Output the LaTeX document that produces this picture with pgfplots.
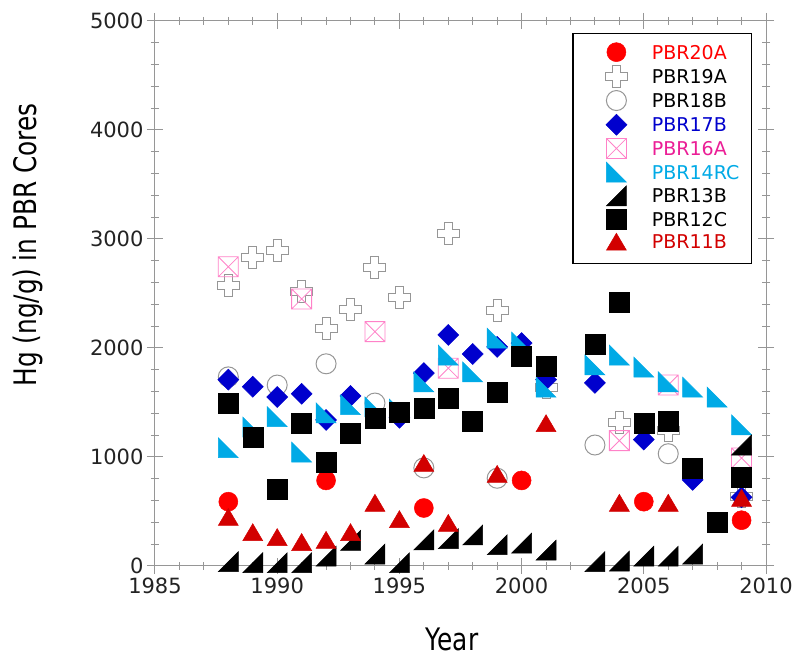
\documentclass[border=0pt]{standalone}
\usepackage{pgfplots}
\pgfplotsset{compat=1.18}
\usepackage{fontspec}
\setmainfont{DejaVu Sans}
\newfontfamily\labelfont[FakeStretch=0.8]{DejaVu Sans}
\definecolor{c20}{RGB}{255,0,0}
\definecolor{cgray}{RGB}{150,150,150}
\definecolor{c17}{RGB}{0,0,205}
\definecolor{c16}{RGB}{255,130,200}
\definecolor{c16t}{RGB}{235,30,150}
\definecolor{c14}{RGB}{0,170,230}
\definecolor{c11}{RGB}{210,0,0}
\definecolor{axgray}{RGB}{150,150,150}
\definecolor{tickfg}{RGB}{35,35,35}
\pgfdeclareplotmark{bigdot}{\pgfpathcircle{\pgfpointorigin}{9.5pt}\pgfusepathqfillstroke}
\pgfdeclareplotmark{opencirc}{\pgfpathcircle{\pgfpointorigin}{10pt}\pgfusepathqstroke}
\pgfdeclareplotmark{opencross}{%
 \pgfpathmoveto{\pgfqpoint{-4pt}{11pt}}\pgfpathlineto{\pgfqpoint{4pt}{11pt}}%
 \pgfpathlineto{\pgfqpoint{4pt}{4pt}}\pgfpathlineto{\pgfqpoint{11pt}{4pt}}%
 \pgfpathlineto{\pgfqpoint{11pt}{-4pt}}\pgfpathlineto{\pgfqpoint{4pt}{-4pt}}%
 \pgfpathlineto{\pgfqpoint{4pt}{-11pt}}\pgfpathlineto{\pgfqpoint{-4pt}{-11pt}}%
 \pgfpathlineto{\pgfqpoint{-4pt}{-4pt}}\pgfpathlineto{\pgfqpoint{-11pt}{-4pt}}%
 \pgfpathlineto{\pgfqpoint{-11pt}{4pt}}\pgfpathlineto{\pgfqpoint{-4pt}{4pt}}%
 \pgfpathclose\pgfusepathqstroke}
\pgfdeclareplotmark{diam}{%
 \pgfpathmoveto{\pgfqpoint{0pt}{10.5pt}}\pgfpathlineto{\pgfqpoint{10.5pt}{0pt}}%
 \pgfpathlineto{\pgfqpoint{0pt}{-10.5pt}}\pgfpathlineto{\pgfqpoint{-10.5pt}{0pt}}%
 \pgfpathclose\pgfusepathqfillstroke}
\pgfdeclareplotmark{xsquare}{%
 \pgfpathrectangle{\pgfqpoint{-10pt}{-10pt}}{\pgfqpoint{20pt}{20pt}}%
 \pgfpathmoveto{\pgfqpoint{-10pt}{-10pt}}\pgfpathlineto{\pgfqpoint{10pt}{10pt}}%
 \pgfpathmoveto{\pgfqpoint{-10pt}{10pt}}\pgfpathlineto{\pgfqpoint{10pt}{-10pt}}%
 \pgfusepathqstroke}
\pgfdeclareplotmark{rtril}{%
 \pgfpathmoveto{\pgfqpoint{-10pt}{10pt}}\pgfpathlineto{\pgfqpoint{-10pt}{-10pt}}%
 \pgfpathlineto{\pgfqpoint{10pt}{-10pt}}\pgfpathclose\pgfusepathqfillstroke}
\pgfdeclareplotmark{rtrir}{%
 \pgfpathmoveto{\pgfqpoint{10pt}{10pt}}\pgfpathlineto{\pgfqpoint{10pt}{-10pt}}%
 \pgfpathlineto{\pgfqpoint{-10pt}{-10pt}}\pgfpathclose\pgfusepathqfillstroke}
\pgfdeclareplotmark{sq}{\pgfpathrectangle{\pgfqpoint{-10pt}{-10pt}}{\pgfqpoint{20pt}{20pt}}\pgfusepathqfillstroke}
\pgfdeclareplotmark{tri}{%
 \pgfpathmoveto{\pgfqpoint{0pt}{8.5pt}}\pgfpathlineto{\pgfqpoint{10pt}{-8.5pt}}%
 \pgfpathlineto{\pgfqpoint{-10pt}{-8.5pt}}\pgfpathclose\pgfusepathqfillstroke}
\begin{document}
\begin{tikzpicture}
\begin{axis}[
  at={(0pt,0pt)}, anchor=south west,
  scale only axis, width=611pt, height=545pt,
  xmin=1985, xmax=2010, ymin=0, ymax=5000,
  xtick={1985,1990,...,2010}, ytick={0,1000,...,5000},
  minor x tick num=4, minor y tick num=4,
  tick align=center, major tick length=16pt, minor tick length=8pt,
  axis line style={axgray, line width=1pt},
  tick style={axgray, line width=1pt},
  /pgf/number format/1000 sep={},
  /pgf/number format/assume math mode=true,
  tick label style={font=\fontsize{21}{25}\selectfont, text=tickfg},
  xlabel={Year}, ylabel={Hg (ng/g) in PBR Cores},
  label style={font=\labelfont\fontsize{31}{36}\selectfont, text=black},
  ylabel style={at={(axis description cs:-0.2079,0.589)}, anchor=center},
  xlabel style={at={(axis description cs:0.486,0)}, anchor=base, yshift=-85pt},
  legend cell align=left,
  legend image code/.code={\path (0pt,0pt) (60pt,0pt); \draw[#1] plot[only marks] coordinates {(35pt,2.9pt)};},
  legend style={at={(0.977,0.978)}, anchor=north east, draw=black, line width=1.3pt,
    inner xsep=8pt, inner ysep=9pt, font=\fontsize{19}{23}\selectfont,
    /tikz/column sep=6pt, /tikz/row sep=0.8pt,
    nodes={inner xsep=4pt, inner ysep=0pt, text height=14pt, text depth=6pt}},
]
\addplot[only marks, mark=bigdot, draw=c20, fill=c20, line width=0.5pt] coordinates {
(1988,590) (1992,785) (1996,532) (2000,785) (2005,590) (2009,420)};
\addlegendentry{\textcolor{c20}{PBR20A}}
\addplot[only marks, mark=opencross, draw=cgray, line width=1pt] coordinates {
(1988,2570) (1989,2830) (1990,2890) (1991,2520) (1992,2175) (1993,2350) (1994,2740)
(1995,2460) (1997,3050) (1999,2340) (2001,1640) (2004,1320) (2006,1240) (2009,640)};
\addlegendentry{PBR19A}
\addplot[only marks, mark=opencirc, draw=cgray, line width=1pt] coordinates {
(1988,1735) (1990,1660) (1992,1855) (1994,1495) (1996,900) (1999,805) (2003,1110) (2006,1030)};
\addlegendentry{PBR18B}
\addplot[only marks, mark=diam, draw=c17, fill=c17, line width=0.5pt] coordinates {
(1988,1710) (1989,1645) (1990,1550) (1991,1580) (1992,1340) (1993,1560) (1995,1360)
(1996,1770) (1997,2120) (1998,1945) (1999,2010) (2000,2045) (2001,1710) (2003,1680)
(2005,1160) (2007,790) (2009,630)};
\addlegendentry{\textcolor{c17}{PBR17B}}
\addplot[only marks, mark=xsquare, draw=c16, line width=0.8pt] coordinates {
(1988,2745) (1991,2450) (1994,2150) (1997,1815) (2004,1150) (2006,1660) (2009,990)};
\addlegendentry{\textcolor{c16t}{PBR16A}}
\addplot[only marks, mark=rtril, draw=c14, fill=c14, line width=0.5pt] coordinates {
(1988,1085) (1989,1275) (1990,1370) (1991,1045) (1992,1405) (1993,1480) (1994,1460)
(1995,1440) (1996,1690) (1997,1935) (1998,1780) (1999,2090) (2000,2055) (2001,1640)
(2003,1845) (2004,1935) (2005,1825) (2006,1690) (2007,1640) (2008,1550) (2009,1295)};
\addlegendentry{\textcolor{c14}{PBR14RC}}
\addplot[only marks, mark=rtrir, draw=black, fill=black, line width=0.5pt] coordinates {
(1988,40) (1989,30) (1990,30) (1991,30) (1992,90) (1993,235) (1994,110) (1995,30)
(1996,240) (1997,250) (1998,285) (1999,195) (2000,210) (2001,145) (2003,40) (2004,45)
(2005,90) (2006,90) (2007,110) (2009,1110)};
\addlegendentry{PBR13B}
\addplot[only marks, mark=sq, draw=black, fill=black, line width=0.5pt] coordinates {
(1988,1490) (1989,1185) (1990,700) (1991,1310) (1992,950) (1993,1220) (1994,1360)
(1995,1415) (1996,1450) (1997,1535) (1998,1325) (1999,1590) (2000,1920) (2001,1830)
(2003,2030) (2004,2420) (2005,1310) (2006,1330) (2007,900) (2008,405) (2009,810)};
\addlegendentry{PBR12C}
\addplot[only marks, mark=tri, draw=c11, fill=c11, line width=0.5pt] coordinates {
(1988,450) (1989,310) (1990,265) (1991,220) (1992,240) (1993,310) (1994,580) (1995,430)
(1996,945) (1997,395) (1999,845) (2001,1310) (2004,580) (2006,580) (2009,625)};
\addlegendentry{\textcolor{c11}{PBR11B}}
\end{axis}
\pgfresetboundingbox
\useasboundingbox (-155pt,-100pt) rectangle (643pt,566pt);
\end{tikzpicture}
\end{document}
